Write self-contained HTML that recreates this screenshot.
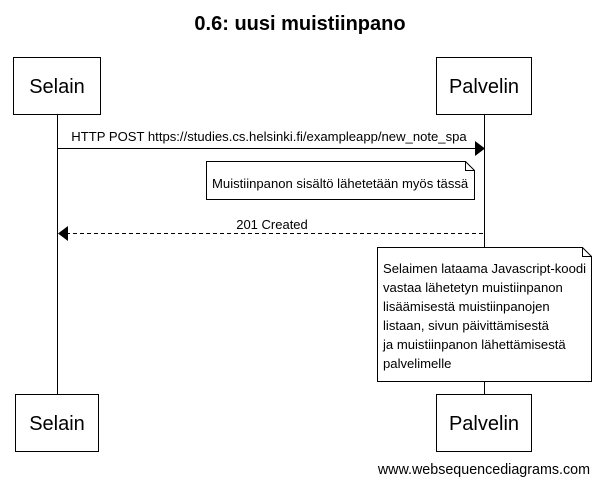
<!DOCTYPE html>
<html><head><meta charset="utf-8"><style>
html,body{margin:0;padding:0;background:#fff;}
svg{display:block;font-family:"Liberation Sans",Arial,sans-serif;}
</style></head><body>
<svg width="600" height="485" viewBox="0 0 600 485" xmlns="http://www.w3.org/2000/svg">
<text x="300" y="30" font-size="20" font-weight="bold" text-anchor="middle" fill="#000">0.6: uusi muistiinpano</text>
<line x1="57.5" y1="114" x2="57.5" y2="394" stroke="#000"/>
<line x1="484.5" y1="114" x2="484.5" y2="394" stroke="#000"/>
<rect x="13.5" y="57.5" width="87" height="57" fill="#fff" stroke="#000"/>
<text x="57" y="93" font-size="20" text-anchor="middle">Selain</text>
<rect x="436.5" y="57.5" width="95" height="57" fill="#fff" stroke="#000"/>
<text x="484" y="93" font-size="20" text-anchor="middle">Palvelin</text>
<rect x="15.5" y="394.5" width="83" height="57" fill="#fff" stroke="#000"/>
<text x="57" y="430" font-size="20" text-anchor="middle">Selain</text>
<rect x="436.5" y="394.5" width="95" height="57" fill="#fff" stroke="#000"/>
<text x="484" y="430" font-size="20" text-anchor="middle">Palvelin</text>
<text x="269" y="141" font-size="13.1" text-anchor="middle">HTTP POST https://studies.cs.helsinki.fi/exampleapp/new_note_spa</text>
<line x1="57" y1="148.5" x2="476" y2="148.5" stroke="#000"/>
<polygon points="475,141 485,148.5 475,156" fill="#000"/>
<path d="M206.5 161.5 H465.5 L474.5 170.5 V199.5 H206.5 Z" fill="#fff" stroke="#000"/>
<path d="M465.5 161.5 V170.5 H474.5" fill="none" stroke="#000"/>
<text x="212" y="188" font-size="13.1">Muistiinpanon sisältö lähetetään myös tässä</text>
<text x="272" y="229" font-size="13" text-anchor="middle">201 Created</text>
<line x1="66" y1="233.5" x2="484" y2="233.5" stroke="#000" stroke-dasharray="4,3"/>
<polygon points="68,226 58,233.5 68,241" fill="#000"/>
<path d="M377.5 247.5 H582.5 L591.5 256.5 V381.5 H377.5 Z" fill="#fff" stroke="#000"/>
<path d="M582.5 247.5 V256.5 H591.5" fill="none" stroke="#000"/>
<g font-size="13.1">
<text x="383" y="273">Selaimen lataama Javascript-koodi</text>
<text x="383" y="292">vastaa lähetetyn muistiinpanon</text>
<text x="383" y="311">lisäämisestä muistiinpanojen</text>
<text x="383" y="330">listaan, sivun päivittämisestä</text>
<text x="383" y="349">ja muistiinpanon lähettämisestä</text>
<text x="383" y="368">palvelimelle</text>
</g>
<text x="590" y="474" font-size="14.3" text-anchor="end">www.websequencediagrams.com</text>
</svg>
</body></html>
